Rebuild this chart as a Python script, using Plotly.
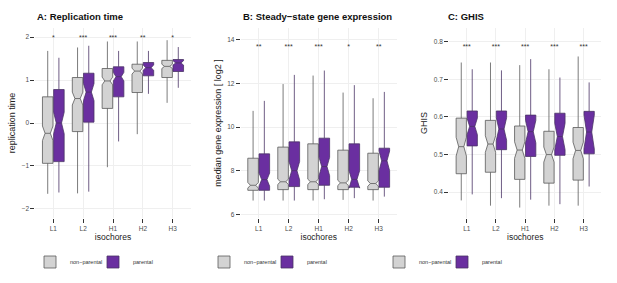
import plotly.graph_objects as go

categories = ["L1", "L2", "H1", "H2", "H3"]
groups = ["non\u2212parental", "parental"]

# Panel A: Replication time
a_np_q1 = [-0.94, -0.20, 0.34, 0.71, 1.06]
a_np_med = [-0.24, 0.57, 0.98, 1.21, 1.32]
a_np_q3 = [0.61, 1.06, 1.27, 1.37, 1.46]
a_np_lo = [-1.65, -1.64, -1.03, -0.26, 0.47]
a_np_hi = [1.68, 1.76, 1.90, 1.90, 1.93]
a_np_notch = [0.17, 0.15, 0.09, 0.07, 0.05]
a_p_q1 = [-0.90, 0.02, 0.61, 1.10, 1.20]
a_p_med = [0.00, 0.72, 1.08, 1.29, 1.40]
a_p_q3 = [0.78, 1.16, 1.31, 1.41, 1.48]
a_p_lo = [-1.62, -1.60, -0.43, 0.68, 0.82]
a_p_hi = [1.52, 1.80, 1.68, 1.68, 1.77]
a_p_notch = [0.25, 0.20, 0.10, 0.06, 0.05]
a_stars = ["*", "***", "***", "**", "*"]
a_star_y = 1.97

# Panel B: Steady-state gene expression
b_np_q1 = [7.10, 7.13, 7.13, 7.13, 7.13]
b_np_med = [7.33, 7.49, 7.49, 7.44, 7.41]
b_np_q3 = [8.57, 9.08, 9.23, 8.94, 8.80]
b_np_lo = [6.63, 6.63, 6.63, 6.66, 6.63]
b_np_hi = [10.74, 11.97, 12.36, 11.58, 11.32]
b_np_notch = [0.13, 0.12, 0.12, 0.12, 0.12]
b_p_q1 = [7.10, 7.27, 7.33, 7.24, 7.24]
b_p_med = [7.59, 8.00, 8.19, 7.60, 8.45]
b_p_q3 = [8.77, 9.32, 9.49, 9.23, 9.03]
b_p_lo = [6.63, 6.63, 6.69, 6.74, 6.81]
b_p_hi = [11.20, 12.39, 12.59, 11.92, 11.61]
b_p_notch = [0.30, 0.42, 0.42, 0.40, 0.45]
b_stars = ["**", "***", "***", "*", "**"]
b_star_y = 13.66

# Panel C: GHIS
c_np_q1 = [0.449, 0.453, 0.434, 0.424, 0.432]
c_np_med = [0.521, 0.528, 0.512, 0.500, 0.511]
c_np_q3 = [0.597, 0.591, 0.576, 0.562, 0.572]
c_np_lo = [0.378, 0.364, 0.359, 0.364, 0.364]
c_np_hi = [0.745, 0.745, 0.738, 0.727, 0.761]
c_np_notch = [0.025, 0.022, 0.022, 0.020, 0.022]
c_p_q1 = [0.523, 0.513, 0.495, 0.498, 0.502]
c_p_med = [0.575, 0.568, 0.561, 0.548, 0.560]
c_p_q3 = [0.616, 0.616, 0.605, 0.610, 0.615]
c_p_lo = [0.394, 0.384, 0.380, 0.368, 0.415]
c_p_hi = [0.727, 0.724, 0.754, 0.705, 0.692]
c_p_notch = [0.022, 0.030, 0.030, 0.035, 0.045]
c_stars = ["***", "***", "***", "***", "***"]
c_star_y = 0.786

titles = ["A: Replication time", "B: Steady\u2212state gene expression", "C: GHIS"]
ytitles = ["replication time", "median gene expression [ log2 ]", "GHIS"]

GRAY_FILL = "#d3d3d3"
GRAY_LINE = "#5a5a5a"
PURPLE_FILL = "#6a2fa0"
PURPLE_LINE = "#4a3366"
FONT = "Liberation Sans, Arial, sans-serif"

W, H = 617, 283
panels = [
    dict(np=(a_np_q1, a_np_med, a_np_q3, a_np_lo, a_np_hi, a_np_notch),
         p=(a_p_q1, a_p_med, a_p_q3, a_p_lo, a_p_hi, a_p_notch),
         stars=a_stars, sy=a_star_y, yr=[-2.214, 2.214], dtick=1,
         xd=[35.4, 190.6], legx=93),
    dict(np=(b_np_q1, b_np_med, b_np_q3, b_np_lo, b_np_hi, b_np_notch),
         p=(b_p_q1, b_p_med, b_p_q3, b_p_lo, b_p_hi, b_p_notch),
         stars=b_stars, sy=b_star_y, yr=[5.83, 14.54], dtick=2,
         xd=[240.7, 396.7], legx=267),
    dict(np=(c_np_q1, c_np_med, c_np_q3, c_np_lo, c_np_hi, c_np_notch),
         p=(c_p_q1, c_p_med, c_p_q3, c_p_lo, c_p_hi, c_p_notch),
         stars=c_stars, sy=c_star_y, yr=[0.3312, 0.8368], dtick=0.1,
         xd=[449.2, 601.2], legx=442),
]
title_x = [35, 241, 446]
title_y = 17

fig = go.Figure()
layout = dict(
    width=W, height=H,
    margin=dict(l=0, r=0, t=0, b=0),
    paper_bgcolor="white", plot_bgcolor="white",
    boxmode="group", boxgap=0.25, boxgroupgap=0.06,
    font=dict(family=FONT, color="#333333"),
    annotations=[],
)
ydom = [1 - 218 / H, 1 - 28 / H]

for i, pnl in enumerate(panels):
    n = "" if i == 0 else str(i + 1)
    xa, ya = "x" + n, "y" + n
    leg = "legend" + n
    for g, key, fill, line in [(groups[0], "np", GRAY_FILL, GRAY_LINE),
                               (groups[1], "p", PURPLE_FILL, PURPLE_LINE)]:
        q1, med, q3, lo, hi, notch = pnl[key]
        fig.add_trace(go.Box(
            name=g, x=categories, q1=q1, median=med, q3=q3,
            lowerfence=lo, upperfence=hi, notchspan=notch,
            notched=True, notchwidth=0.25, whiskerwidth=0,
            fillcolor=fill, line=dict(color=line, width=0.8),
            boxpoints=False, xaxis=xa, yaxis=ya, legend=leg,
            offsetgroup=key, hoverinfo="skip",
        ))
    fig.add_trace(go.Scatter(
        x=categories, y=[pnl["sy"]] * len(categories), text=pnl["stars"],
        mode="text", textfont=dict(size=7, color="#333333"),
        showlegend=False, xaxis=xa, yaxis=ya, hoverinfo="skip",
    ))
    layout["xaxis" + n] = dict(
        domain=[pnl["xd"][0] / W, pnl["xd"][1] / W], anchor=ya,
        type="category", range=[-0.6, 4.6],
        showgrid=True, gridcolor="#efefef", gridwidth=0.6,
        ticks="outside", ticklen=4, tickwidth=1, tickcolor="#333333",
        tickfont=dict(size=6.5, color="#4d4d4d"),
        title=dict(text="isochores", font=dict(size=8.5, color="#222222"), standoff=1),
        zeroline=False, showline=False,
    )
    layout["yaxis" + n] = dict(
        domain=ydom, anchor=xa, range=pnl["yr"], dtick=pnl["dtick"],
        showgrid=True, gridcolor="#efefef", gridwidth=0.6,
        ticks="outside", ticklen=4, tickwidth=1, tickcolor="#333333",
        tickfont=dict(size=6.5, color="#4d4d4d"),
        title=dict(text=ytitles[i], font=dict(size=9, color="#222222"), standoff=4),
        zeroline=False, showline=False,
    )
    layout[leg] = dict(
        orientation="h", x=pnl["legx"] / W, xanchor="center",
        y=1 - 262 / H, yanchor="middle",
        font=dict(size=5.5, color="#333333"), bgcolor="rgba(0,0,0,0)",
        itemwidth=30, tracegroupgap=0,
        entrywidth=18, entrywidthmode="pixels",
    )
    layout["annotations"].append(dict(
        text="<b>" + titles[i] + "</b>", xref="paper", yref="paper",
        x=title_x[i] / W, y=1 - title_y / H, xanchor="left", yanchor="middle",
        showarrow=False, font=dict(size=9.5, color="#111111"),
    ))

fig.update_layout(**layout)
fig.write_html(
    "out.html",
    config={"displayModeBar": False},
    post_script="document.body.style.margin='0';document.body.style.padding='0';",
)
